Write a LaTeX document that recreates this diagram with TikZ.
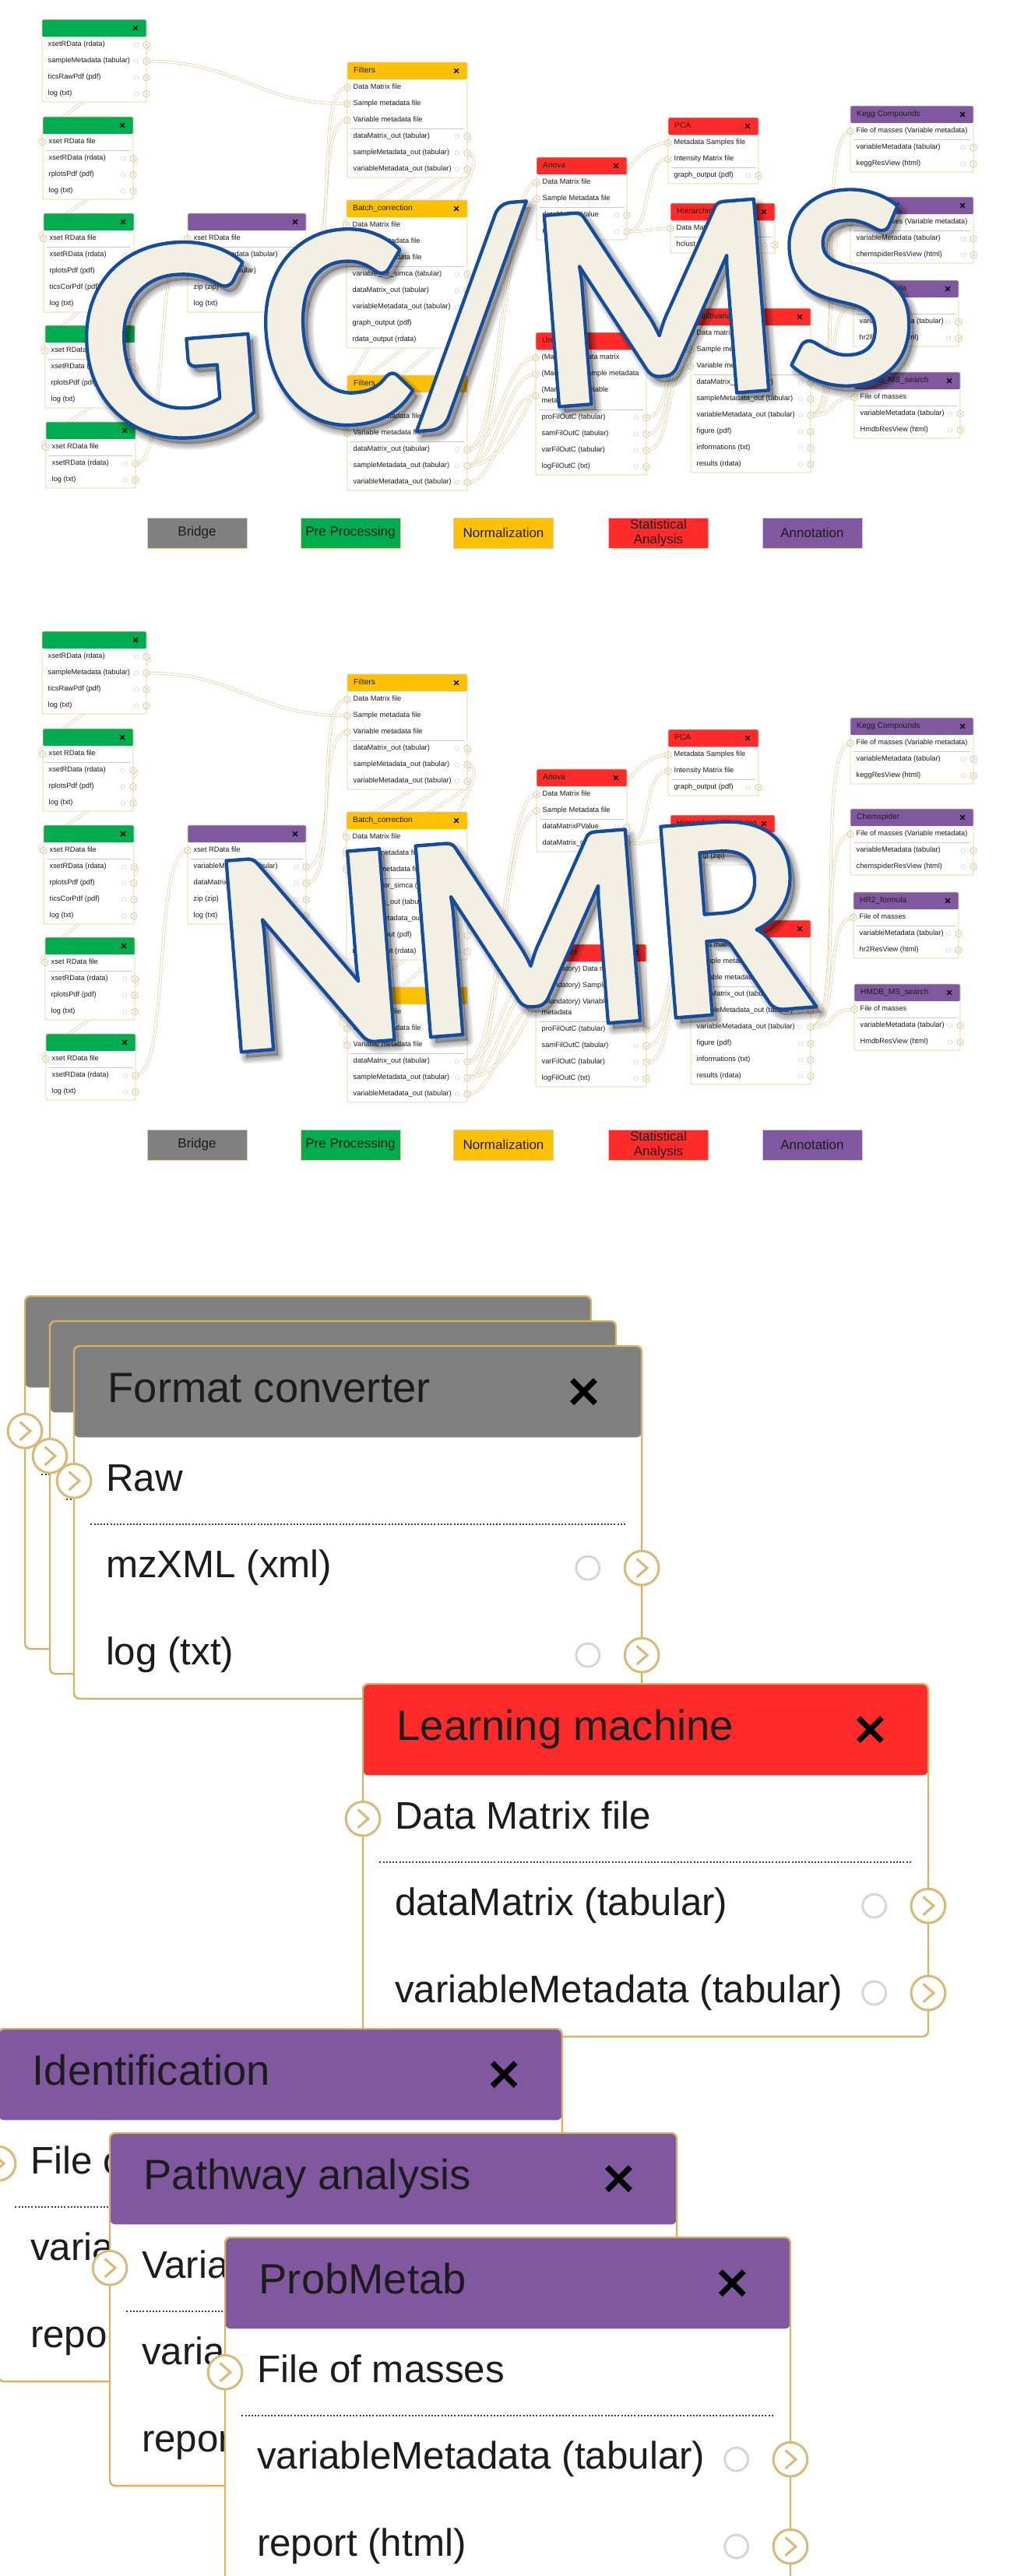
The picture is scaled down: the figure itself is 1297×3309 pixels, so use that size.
\documentclass[tikz,border=0pt]{standalone}
\usepackage{fontspec}
\setmainfont{Liberation Sans}
\newfontfamily\bigfont{Carlito}
\usetikzlibrary{calc}
\pgfdeclarelayer{bg}
\pgfsetlayers{bg,main}
\definecolor{conncol}{RGB}{226,204,156}
\definecolor{framecol}{RGB}{228,206,158}
\definecolor{bigframe}{RGB}{214,178,100}
\definecolor{portcol}{RGB}{216,186,118}
\definecolor{gearcol}{RGB}{214,214,214}
\definecolor{hgreen}{RGB}{0,172,80}
\definecolor{hyellow}{RGB}{255,192,0}
\definecolor{hred}{RGB}{255,42,42}
\definecolor{hpurple}{RGB}{128,88,160}
\definecolor{hgray}{RGB}{128,128,128}
\definecolor{txtcol}{RGB}{28,28,28}
\definecolor{sepcol}{RGB}{200,200,200}
\definecolor{ovfill}{RGB}{243,240,227}
% outlined text via PDF text render mode (fill + stroke)
\newcommand\ovstroke[3]{\special{pdf:literal 2 Tr 1 j #1 w #2 RG}#3\special{pdf:literal 0 Tr}}
\newcounter{wfc}
\tikzset{
  wfframe/.style={draw=framecol,line width=0.8pt,rounded corners=1.5pt},
  wfhead/.style={rounded corners=1.5pt},
  wfport/.style={circle,draw=portcol,fill=white,line width=0.6pt,minimum size=8.4pt,inner sep=0pt},
  wfchev/.style={draw=portcol,line width=0.6pt},
  wfgear/.style={draw=gearcol,line width=0.6pt},
  wfx/.style={draw=black,line width=1.4pt},
  wfsepl/.style={draw=sepcol,line width=0.5pt},
  wfrow/.style={anchor=west,inner sep=0pt,font=\fontsize{9.25}{11}\selectfont,text=txtcol,text height=6.8pt,text depth=2pt},
  wftitle/.style={anchor=west,inner sep=0pt,font=\fontsize{10.2}{12}\selectfont,text=txtcol,text height=7.4pt,text depth=2.1pt},
  conn/.style={draw=conncol,line width=0.65pt,double=white,double distance=2.2pt},
  legbox/.style={draw=framecol,line width=0.8pt,minimum width=128pt,minimum height=39pt,inner sep=0pt,font=\fontsize{17}{18.5}\selectfont,text=txtcol,align=center},
  ovtxt/.style={inner sep=0pt,anchor=base,font=\bigfont\bfseries\fontsize{380}{400}\selectfont,rotate=4.5,xscale=0.962},
}
% box frame: x, y, w, nrows, colour, title
\newcommand\wfbox[6]{%
  \xdef\wbx{#1}\xdef\wby{#2}\xdef\wbw{#3}%
  \pgfmathsetmacro\wbh{22+21*#4}%
  \fill[white,wfhead] (#1,#2) rectangle ++(#3,\wbh);
  \fill[#5,wfhead] (#1,#2) rectangle ++(#3,22);
  \draw[wfframe] (#1,#2) rectangle ++(#3,\wbh);
  \stepcounter{wfc}\node[wftitle] (t\arabic{wfc}) at (#1+8,#2+11) {#6};
  \draw[wfx] (#1+#3-16.8,#2+8.2) -- ++(5.6,5.6) (#1+#3-16.8,#2+13.8) -- ++(5.6,-5.6);
}
\newcommand\wftext[2]{\stepcounter{wfc}\node[wfrow] (t\arabic{wfc}) at (\wbx+7.5,\wby+32.5+21*#1) {#2};}
\newcommand\wfportat[3]{\node[wfport] (#1) at (#2,#3) {};
  \draw[wfchev] (#2-1.2,#3-2.2) -- (#2+1.3,#3) -- (#2-1.2,#3+2.2);}
\newcommand\wfpin[2]{\pgfmathsetmacro\wpy{\wby+32.5+21*#2}\wfportat{#1}{\wbx}{\wpy}}
\newcommand\wfpout[2]{\pgfmathsetmacro\wpy{\wby+32.5+21*#2}\pgfmathsetmacro\wpx{\wbx+\wbw}%
  \draw[wfgear] (\wpx-13,\wpy) circle[radius=2.8];
  \wfportat{#1}{\wpx}{\wpy}}
\newcommand\wfin[3]{\wftext{#2}{#3}\wfpin{#1}{#2}}
\newcommand\wfout[3]{\wftext{#2}{#3}\wfpout{#1}{#2}}
\newcommand\wfsep[1]{\draw[wfsepl] (\wbx+4,\wby+22+21*#1) -- (\wbx+\wbw-4,\wby+22+21*#1);}
\newcommand\wfc[3]{\draw[conn] (#1.center) .. controls +(#3,0) and +(-#3,0) .. (#2.center);}
% one workflow (prefix \wp)
\newcommand\workflow{%
\wfbox{54}{25}{134}{4}{hgreen}{}
\wfout{\wp a1o1}{0}{xsetRData (rdata)}
\wfout{\wp a1o2}{1}{sampleMetadata (tabular)}
\wfout{\wp a1o3}{2}{ticsRawPdf (pdf)}
\wfout{\wp a1o4}{3}{log (txt)}
\wfbox{55}{150}{116}{4}{hgreen}{}
\wfin{\wp a2i1}{0}{xset RData file}\wfsep{1}
\wfout{\wp a2o1}{1}{xsetRData (rdata)}
\wfout{\wp a2o2}{2}{rplotsPdf (pdf)}
\wfout{\wp a2o3}{3}{log (txt)}
\wfbox{56}{274}{116}{5}{hgreen}{}
\wfin{\wp a3i1}{0}{xset RData file}\wfsep{1}
\wfout{\wp a3o1}{1}{xsetRData (rdata)}
\wfout{\wp a3o2}{2}{rplotsPdf (pdf)}
\wfout{\wp a3o3}{3}{ticsCorPdf (pdf)}
\wfout{\wp a3o4}{4}{log (txt)}
\wfbox{58}{418}{115}{4}{hgreen}{}
\wfin{\wp a4i1}{0}{xset RData file}\wfsep{1}
\wfout{\wp a4o1}{1}{xsetRData (rdata)}
\wfout{\wp a4o2}{2}{rplotsPdf (pdf)}
\wfout{\wp a4o3}{3}{log (txt)}
\wfbox{59}{542}{115}{3}{hgreen}{}
\wfin{\wp a5i1}{0}{xset RData file}\wfsep{1}
\wfout{\wp a5o1}{1}{xsetRData (rdata)}
\wfout{\wp a5o2}{2}{log (txt)}
\wfbox{241}{274}{152}{5}{hpurple}{}
\wfin{\wp p1i1}{0}{xset RData file}\wfsep{1}
\wfout{\wp p1o1}{1}{variableMetadata (tabular)}
\wfout{\wp p1o2}{2}{dataMatrix (tabular)}
\wfout{\wp p1o3}{3}{zip (zip)}
\wfout{\wp p1o4}{4}{log (txt)}
\wfbox{446}{80}{154}{6}{hyellow}{Filters}
\wfin{\wp f1i1}{0}{Data Matrix file}
\wfin{\wp f1i2}{1}{Sample metadata file}
\wfin{\wp f1i3}{2}{Variable metadata file}\wfsep{3}
\wfout{\wp f1o1}{3}{dataMatrix\_out (tabular)}
\wfout{\wp f1o2}{4}{sampleMetadata\_out (tabular)}
\wfout{\wp f1o3}{5}{variableMetadata\_out (tabular)}
\wfbox{445}{257}{155}{8}{hyellow}{Batch\_correction}
\wfin{\wp f2i1}{0}{Data Matrix file}
\wfin{\wp f2i2}{1}{Sample metadata file}
\wfin{\wp f2i3}{2}{Variable metadata file}\wfsep{3}
\wfout{\wp f2o1}{3}{variable\_for\_simca (tabular)}
\wfout{\wp f2o2}{4}{dataMatrix\_out (tabular)}
\wfout{\wp f2o3}{5}{variableMetadata\_out (tabular)}
\wfout{\wp f2o4}{6}{graph\_output (pdf)}
\wfout{\wp f2o5}{7}{rdata\_output (rdata)}
\wfbox{446}{482}{154}{6}{hyellow}{Filters}
\wfin{\wp f3i1}{0}{Data Matrix file}
\wfin{\wp f3i2}{1}{Sample metadata file}
\wfin{\wp f3i3}{2}{Variable metadata file}\wfsep{3}
\wfout{\wp f3o1}{3}{dataMatrix\_out (tabular)}
\wfout{\wp f3o2}{4}{sampleMetadata\_out (tabular)}
\wfout{\wp f3o3}{5}{variableMetadata\_out (tabular)}
\wfbox{689}{202}{116}{4}{hred}{Anova}
\wfin{\wp ani1}{0}{Data Matrix file}
\wfin{\wp ani2}{1}{Sample Metadata file}\wfsep{2}
\wfout{\wp ano1}{2}{dataMatrixPValue}
\wfout{\wp ano2}{3}{dataMatrix\_out}
\wfbox{858}{151}{116}{3}{hred}{PCA}
\wfin{\wp pci1}{0}{Metadata Samples file}
\wfin{\wp pci2}{1}{Intensity Matrix file}\wfsep{2}
\wfout{\wp pco1}{2}{graph\_output (pdf)}
\wfbox{861}{261}{134}{2}{hred}{Hierarchical Clustering}
\wfin{\wp hci1}{0}{Data Matrix file}\wfsep{1}
\wfout{\wp hco1}{1}{hclust\_zip (zip)}
\wfbox{688}{427}{142}{7.667}{hred}{Univariate}
\wfin{\wp uni1}{0}{(Mandatory) Data matrix}
\wfin{\wp uni2}{1}{(Mandatory) Sample metadata}
\wftext{2}{(Mandatory) Variable}\wftext{2.667}{metadata}\wfpin{\wp uni3}{2.333}
\wfsep{3.667}
\wfout{\wp uno1}{3.667}{proFilOutC (tabular)}
\wfout{\wp uno2}{4.667}{samFilOutC (tabular)}
\wfout{\wp uno3}{5.667}{varFilOutC (tabular)}
\wfout{\wp uno4}{6.667}{logFilOutC (txt)}
\wfbox{887}{396}{154}{9}{hred}{Multivariate}
\wfin{\wp mvi1}{0}{Data matrix}
\wfin{\wp mvi2}{1}{Sample metadata}
\wfin{\wp mvi3}{2}{Variable metadata}\wfsep{3}
\wfout{\wp mvo1}{3}{dataMatrix\_out (tabular)}
\wfout{\wp mvo2}{4}{sampleMetadata\_out (tabular)}
\wfout{\wp mvo3}{5}{variableMetadata\_out (tabular)}
\wfout{\wp mvo4}{6}{figure (pdf)}
\wfout{\wp mvo5}{7}{informations (txt)}
\wfout{\wp mvo6}{8}{results (rdata)}
\wfbox{1092}{136}{158}{3}{hpurple}{Kegg Compounds}
\wfin{\wp kgi1}{0}{File of masses (Variable metadata)}\wfsep{1}
\wfout{\wp kgo1}{1}{variableMetadata (tabular)}
\wfout{\wp kgo2}{2}{keggResView (html)}
\wfbox{1092}{253}{158}{3}{hpurple}{Chemspider}
\wfin{\wp csi1}{0}{File of masses (Variable metadata)}\wfsep{1}
\wfout{\wp cso1}{1}{variableMetadata (tabular)}
\wfout{\wp cso2}{2}{chemspiderResView (html)}
\wfbox{1096}{360}{135}{3}{hpurple}{HR2\_formula}
\wfin{\wp hri1}{0}{File of masses}\wfsep{1}
\wfout{\wp hro1}{1}{variableMetadata (tabular)}
\wfout{\wp hro2}{2}{hr2ResView (html)}
\wfbox{1097}{478}{136}{3}{hpurple}{HMDB\_MS\_search}
\wfin{\wp hmi1}{0}{File of masses}\wfsep{1}
\wfout{\wp hmo1}{1}{variableMetadata (tabular)}
\wfout{\wp hmo2}{2}{HmdbResView (html)}
\begin{pgfonlayer}{bg}
\wfc{\wp a1o1}{\wp a2i1}{35}
\wfc{\wp a2o1}{\wp a3i1}{35}
\wfc{\wp a3o1}{\wp a4i1}{35}
\wfc{\wp a4o1}{\wp a5i1}{35}
\wfc{\wp a5o1}{\wp p1i1}{45}
\wfc{\wp a1o2}{\wp f1i2}{120}
\wfc{\wp p1o1}{\wp f1i3}{40}
\wfc{\wp p1o2}{\wp f1i1}{45}
\wfc{\wp f1o1}{\wp f2i1}{35}
\wfc{\wp f1o2}{\wp f2i2}{35}
\wfc{\wp f1o3}{\wp f2i3}{35}
\wfc{\wp f1o2}{\wp f3i2}{60}
\wfc{\wp f2o2}{\wp f3i1}{35}
\wfc{\wp f2o3}{\wp f3i3}{35}
\wfc{\wp f3o1}{\wp ani1}{45}
\wfc{\wp f3o2}{\wp ani2}{45}
\wfc{\wp f3o1}{\wp uni1}{40}
\wfc{\wp f3o2}{\wp uni2}{40}
\wfc{\wp f3o3}{\wp uni3}{40}
\wfc{\wp f3o2}{\wp pci1}{110}
\wfc{\wp ano2}{\wp pci2}{35}
\wfc{\wp ano2}{\wp hci1}{30}
\wfc{\wp uno1}{\wp mvi1}{35}
\wfc{\wp uno2}{\wp mvi2}{35}
\wfc{\wp uno3}{\wp mvi3}{35}
\wfc{\wp mvo3}{\wp kgi1}{45}
\wfc{\wp mvo3}{\wp csi1}{45}
\wfc{\wp mvo3}{\wp hri1}{40}
\wfc{\wp mvo3}{\wp hmi1}{35}
\end{pgfonlayer}
\node[legbox,fill=hgray] (\wp lg1) at (253,684.5) {Bridge};
\node[legbox,fill=hgreen] (\wp lg2) at (450,684.5) {Pre Processing};
\node[legbox,fill=hyellow] (\wp lg3) at (646.5,684.5) {Normalization};
\node[legbox,fill=hred] (\wp lg4) at (845.5,684.5) {Statistical\\Analysis};
\node[legbox,fill=hpurple] (\wp lg5) at (1043,684.5) {Annotation};
}
\begin{document}
\begin{tikzpicture}[x=1pt,y=-1pt]
\useasboundingbox (0,0) rectangle (1297,3309);
\begin{pgfonlayer}{bg}
\fill[white] (0,0) rectangle (1297,3309);
\end{pgfonlayer}
% ---- GC/MS workflow
\def\wp{g}
\begin{scope}\workflow\end{scope}
% ---- NMR workflow
\def\wp{n}
\begin{scope}[shift={(0,786)}]\workflow\end{scope}
% ---- enlarged boxes
\begin{scope}
\tikzset{
  wfframe/.style={draw=bigframe,line width=2.4pt,rounded corners=7pt},
  wfhead/.style={rounded corners=7pt},
  wfport/.style={circle,draw=portcol,fill=white,line width=3pt,minimum size=8.2pt,inner sep=0pt},
  wfchev/.style={draw=portcol,line width=3pt},
  wfgear/.style={draw=gearcol,line width=3pt},
  wfx/.style={draw=black,line width=7pt},
  wfsepl/.style={draw=black!75,line width=2pt,dash pattern=on 2pt off 2.2pt},
}
\begin{scope}[shift={(32,1665)},scale=5.33,transform shape]
\wfbox{0}{0}{136.4}{3}{hgray}{}
\wfpin{b1i1}{0}\wfsep{1}\wfpout{b1o1}{1}\wfpout{b1o2}{2}
\end{scope}
\begin{scope}[shift={(64,1697)},scale=5.33,transform shape]
\wfbox{0}{0}{136.4}{3}{hgray}{}
\wfpin{b2i1}{0}\wfsep{1}\wfpout{b2o1}{1}\wfpout{b2o2}{2}
\end{scope}
\begin{scope}[shift={(95,1729)},scale=5.33,transform shape]
\wfbox{0}{0}{136.8}{3}{hgray}{Format converter}
\wfin{b3i1}{0}{Raw}\wfsep{1}
\wfout{b3o1}{1}{mzXML (xml)}
\wfout{b3o2}{2}{log (txt)}
\end{scope}
\begin{scope}[shift={(466,2163)},scale=5.33,transform shape]
\wfbox{0}{0}{136.2}{3}{hred}{Learning machine}
\wfin{lmi1}{0}{Data Matrix file}\wfsep{1}
\wfout{lmo1}{1}{dataMatrix (tabular)}
\wfout{lmo2}{2}{variableMetadata (tabular)}
\end{scope}
\begin{scope}[shift={(-2,2606)},scale=5.33,transform shape]
\wfbox{0}{0}{135.8}{3}{hpurple}{Identification}
\wfin{idi1}{0}{File of masses}\wfsep{1}
\wfout{ido1}{1}{variableMetadata (tabular)}
\wfout{ido2}{2}{report (html)}
\end{scope}
\begin{scope}[shift={(141,2740)},scale=5.33,transform shape]
\wfbox{0}{0}{136.6}{3}{hpurple}{Pathway analysis}
\wfin{pai1}{0}{Variable metadata}\wfsep{1}
\wfout{pao1}{1}{variableMetadata (tabular)}
\wfout{pao2}{2}{report (html)}
\end{scope}
\begin{scope}[shift={(289,2874)},scale=5.33,transform shape]
\wfbox{0}{0}{136.2}{3}{hpurple}{ProbMetab}
\wfin{pmi1}{0}{File of masses}\wfsep{1}
\wfout{pmo1}{1}{variableMetadata (tabular)}
\wfout{pmo2}{2}{report (html)}
\end{scope}
\end{scope}
% ---- overlay titles (soft shadow, then outlined cream letters)
\coordinate (gcc) at (648,528);
\coordinate (nmc) at (670,1323);
\foreach \w [count=\i] in {15,10,5}{
  \node[ovtxt,text=black,opacity=0.10,shift={(6,8)},name=gs\i] at (gcc) {\ovstroke{\w}{0 0 0}{GC/MS}};
  \node[ovtxt,text=black,opacity=0.10,shift={(6,8)},name=ns\i] at (nmc) {\ovstroke{\w}{0 0 0}{NMR}};
}
\node[ovtxt,text=ovfill,name=gfill] at (gcc) {\ovstroke{4.4}{0.08 0.30 0.62}{GC/MS}};
\node[ovtxt,text=ovfill,name=nfill] at (nmc) {\ovstroke{4.4}{0.08 0.30 0.62}{NMR}};
\end{tikzpicture}
\end{document}
